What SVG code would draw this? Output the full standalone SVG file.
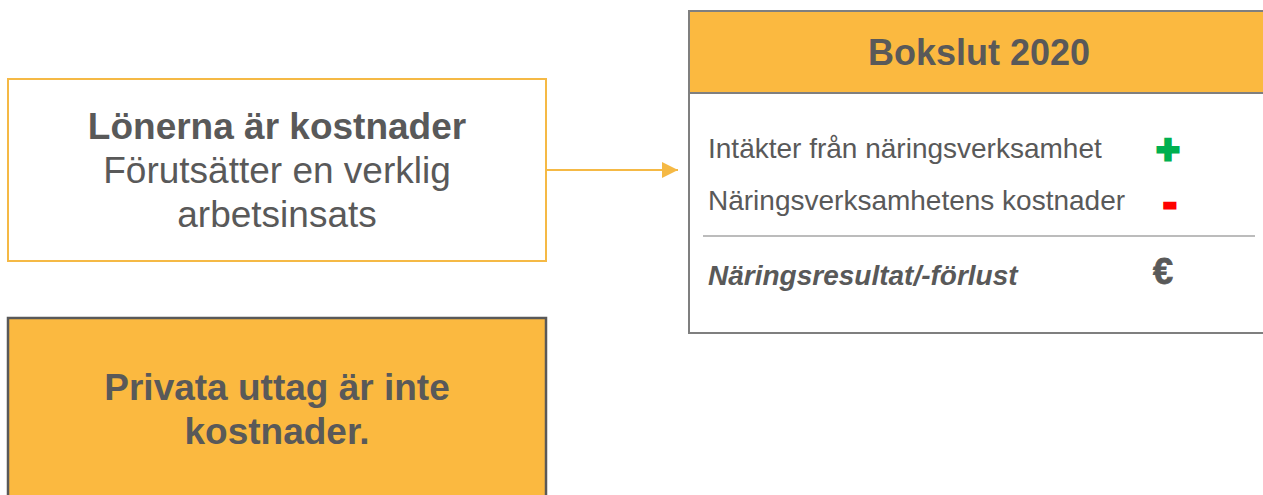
<svg xmlns="http://www.w3.org/2000/svg" width="1263" height="495" viewBox="0 0 1263 495">
<style>
text{font-family:"Liberation Sans",Arial,sans-serif;fill:#595959}
.big{font-size:37px;text-anchor:middle}
.b{font-weight:bold}
.row{font-size:28px}
</style>
<defs>
<marker id="arr" markerWidth="8" markerHeight="8" refX="8" refY="4" orient="auto" markerUnits="strokeWidth">
<path d="M0,0 L8,4 L0,8 Z" fill="#F5B945"/>
</marker>
</defs>
<rect width="1263" height="495" fill="#FFFFFF"/>
<g id="connectors">
<line x1="546" y1="170" x2="678" y2="170" stroke="#F5B945" stroke-width="2" marker-end="url(#arr)"/>
</g>
<g id="lonerna">
<rect x="8" y="79" width="538" height="182" fill="#FFFFFF" stroke="#F5B945" stroke-width="2"/>
<text class="big b" x="277" y="139">Lönerna är kostnader</text>
<text class="big" x="277" y="183">Förutsätter en verklig</text>
<text class="big" x="277" y="227">arbetsinsats</text>
</g>
<g id="privata">
<rect x="8" y="318" width="538" height="190" fill="#FBB940" stroke="#595959" stroke-width="2.5"/>
<text class="big b" x="277" y="400">Privata uttag är inte</text>
<text class="big b" x="277" y="444">kostnader.</text>
</g>
<g id="bokslut">
<rect x="689" y="11" width="590" height="322" fill="#FFFFFF" stroke="#7F7F7F" stroke-width="2"/>
<rect x="689" y="11" width="590" height="82" fill="#FBB940" stroke="#7F7F7F" stroke-width="2"/>
<text class="b" x="979" y="65" font-size="36" text-anchor="middle">Bokslut 2020</text>
<text class="row" x="708" y="158">Intäkter från näringsverksamhet</text>
<text class="row" x="708" y="210">Näringsverksamhetens kostnader</text>
<line x1="703" y1="236" x2="1255" y2="236" stroke="#A6A6A6" stroke-width="1.5"/>
<text class="row b" x="708" y="285" font-style="italic">Näringsresultat/-förlust</text>
<text class="b" x="1168" y="163" font-size="40" text-anchor="middle" style="fill:#00B050;stroke:#00B050;stroke-width:3">+</text>
<text class="b" x="1170" y="216" font-size="40" text-anchor="middle" style="fill:#FF0000;stroke:#FF0000;stroke-width:3">-</text>
<text class="b" x="1163" y="284" font-size="36" text-anchor="middle" style="stroke:#595959;stroke-width:0.8">€</text>
</g>
</svg>
